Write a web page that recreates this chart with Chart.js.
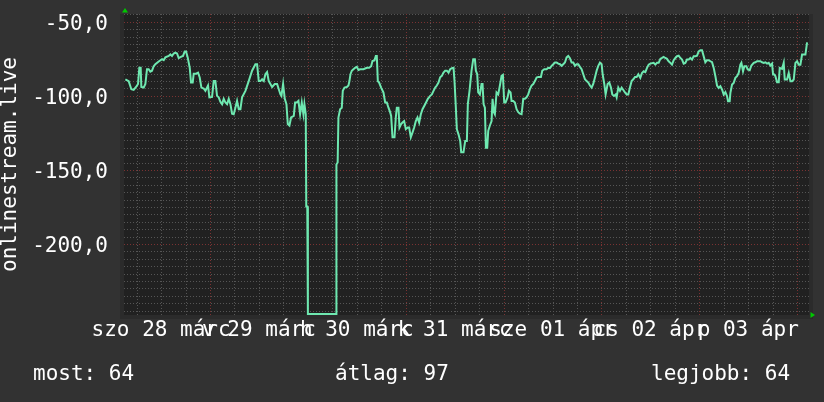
<!DOCTYPE html>
<html lang="hu">
<head>
<meta charset="UTF-8">
<title>onlinestream.live</title>
<script src="https://cdn.jsdelivr.net/npm/chart.js"></script>
<style>
  body { margin: 0; background: #323232; }
  #wrap { position: relative; width: 824px; height: 402px; }
  .stat { position: absolute; top: 363px; color: #fff; font: 21px/21px "DejaVu Sans Mono", monospace; white-space: pre; }
</style>
</head>
<body>
<div id="wrap">
  <canvas id="chart" width="824" height="402"></canvas>
  <div class="stat" style="left:33px">most: 64</div>
  <div class="stat" style="left:335px">átlag: 97</div>
  <div class="stat" style="left:651px">legjobb: 64</div>
</div>
<script>
// hours since szo 28 márc 00:00
const hours = [
  3.23, 4.05, 4.70, 5.27, 5.85, 6.34, 6.66, 6.99, 7.15, 7.73, 8.14, 8.54, 8.95, 9.36, 9.77, 10.18, 10.59, 11.41,
  12.23, 12.64, 13.04, 13.86, 14.27, 14.68, 15.09, 15.5, 15.91, 16.32, 16.97, 17.38, 17.79, 18.12, 18.52, 19.02,
  19.34, 19.75, 20.0, 20.57, 21.06, 21.47, 21.88, 22.45, 22.86, 23.51, 23.84, 24.5, 24.9, 25.31, 25.72, 26.13,
  26.54, 26.95, 27.36, 27.77, 28.18, 28.59, 29.0, 29.4, 29.81, 30.22, 30.63, 31.04, 31.45, 31.86, 32.68, 33.49,
  34.31, 35.13, 35.54, 35.95, 36.36, 36.77, 37.18, 37.58, 37.99, 38.4, 38.81, 39.22, 39.87, 40.45, 40.86, 41.27,
  41.51, 41.92, 42.33, 42.74, 43.07, 43.47, 43.88, 44.54,
  44.86, 45.27, 45.68, 46.09, 46.5, 46.9, 47.15, 47.48, 47.6, 47.85, 48.0, 54.9, 55.0, 55.3, 55.49, 55.9, 56.31,
  56.56, 56.97, 57.54, 57.95, 58.19, 58.44, 58.77, 59.17, 59.58, 60.0, 60.4, 60.81, 61.63, 62.45, 63.02, 63.51,
  63.84, 64.33, 64.66, 64.9, 65.15, 65.47, 65.96, 66.54, 66.95, 67.36, 67.76, 68.17, 68.42, 68.75, 69.24, 69.56,
  69.81, 70.22, 70.46, 70.87, 71.2, 71.61, 72.02, 72.51, 72.84, 73.24, 73.65, 74.06, 74.47, 74.88, 75.29, 75.7,
  76.11, 76.76, 77.42, 77.99, 78.4, 78.81, 79.22, 79.62, 80.03, 80.44, 80.85, 81.26, 81.67, 82.08, 82.49, 82.9,
  83.31, 83.72, 83.96, 84.29, 84.53, 84.94, 85.35, 85.6, 86.17, 86.58, 86.99, 87.23, 87.64,
  88.14, 88.55, 88.96, 89.2, 89.53, 89.77, 90.18, 90.59, 90.84, 91.08, 91.41, 91.66, 91.98, 92.23, 92.64, 93.05,
  93.29, 93.62, 93.86, 94.27, 94.68, 95.09, 95.5, 95.83, 96.15, 96.48, 96.97, 97.3, 97.71, 97.95, 98.36, 98.77,
  99.18, 99.59, 100.0, 100.41, 100.82, 101.23, 101.63, 102.04, 102.45, 102.86, 103.27, 103.68, 104.09, 104.5,
  105.15, 105.48, 105.97, 106.54, 106.95, 107.36, 107.77, 108.18, 108.59, 109.0, 109.41, 109.82, 110.22, 110.63,
  111.04, 111.45, 111.86, 112.27, 112.68, 113.09, 113.5, 113.9, 114.31, 114.72, 115.13, 115.54, 115.95, 116.36,
  116.77, 117.18, 117.59, 117.99, 118.4, 118.81, 119.22, 119.63, 120.04, 120.29, 120.7, 121.02, 121.51, 121.92,
  122.33, 122.66, 123.07, 123.48, 123.72, 124.13, 124.54, 124.95, 125.36, 125.77, 126.18, 126.58, 126.99, 127.4,
  127.81, 128.22, 128.63, 129.04,
  129.53, 129.94, 130.35, 130.76, 131.17, 131.58, 131.98, 132.8, 133.21, 133.62, 134.03, 134.44, 134.85, 135.26,
  135.66, 136.07, 136.48, 136.89, 137.3, 137.71, 138.12, 138.53, 138.94, 139.35, 139.76, 140.16, 140.57, 140.98,
  141.39, 141.8, 142.21, 142.62, 143.03, 143.44, 143.85, 144.25, 144.66, 145.07, 145.48, 145.89, 146.3, 146.71,
  147.12, 147.53, 147.94, 148.34, 148.75, 149.16, 149.57, 149.98, 150.39, 150.8, 151.04, 151.45, 151.62, 152.03,
  152.43, 152.84, 153.25, 153.66, 154.07, 154.32, 154.72, 155.05, 155.54, 155.87, 156.36, 156.77, 157.34, 157.75,
  158.16, 158.98, 159.39, 159.8, 160.21, 160.61, 161.02, 161.43, 161.84, 162.09, 162.41, 162.66, 163.07, 163.48,
  163.72, 164.29, 164.7, 164.95, 165.52, 165.93, 166.34, 166.75, 167.16, 167.57, 167.98, 168.39, 168.79, 169.2,
  169.61, 170.02, 170.43
];
const values = [
  -88.8, -90, -95.5, -96, -94, -92, -81, -81, -94, -94.4, -92, -82, -82, -83.6, -83, -80, -78.6, -76.8,
  -75.2, -75.9, -74, -73, -72, -73, -71.4, -70.8, -71.4, -74.5, -73.5, -73, -70, -70, -74, -81,
  -91, -91, -85, -85, -84.3, -87.6, -94.4, -95, -96.6, -93, -101, -100.7, -90, -90, -100, -101,
  -104, -105.6, -102, -104.5, -105.6, -102, -105.6, -112, -112.4, -108, -103.4, -109, -109, -101, -96.6, -90,
  -83, -78.6, -78.6, -90, -90, -88.8, -90, -85.4, -84, -90, -92, -94, -92, -92, -95.5, -99,
  -100, -92, -102, -105.6, -119, -120, -114.6, -113.5,
  -104.5, -104.5, -103.4, -112.4, -104.5, -112.4, -105.6, -112.4, -174.8, -174.8, -247.3, -247.3, -146.4, -145, -114.6, -109, -108,
  -96.6, -94.4, -94, -93, -90, -85.4, -83, -82, -81, -80.4, -82.5, -82, -82, -81, -81, -80,
  -76.4, -76, -73, -73, -90, -91, -94.4, -97.7, -104.5, -104.5, -108, -111, -113.5, -128, -128, -114.6,
  -108, -108, -121.4, -119, -118, -117, -122.5, -121.4, -121.4, -128, -124.8, -121.4, -117, -114.6, -118, -112.4,
  -109, -105.6, -102, -100, -99, -96.6, -94.4, -93, -91, -87.4, -86.5, -84.3, -83, -83, -84.3, -82,
  -81.3, -81, -90, -108, -122.5, -126, -130.4, -138, -138, -130.4, -130.4, -105.6, -96.6,
  -83, -75.2, -75.2, -83, -85.4, -97.7, -99, -92, -92, -105.6, -108, -135, -135, -123.6, -120, -117,
  -102, -111, -112.4, -97.7, -99, -93, -86.5, -85.8, -104.5, -104.5, -101, -96.6, -97.7, -103.4, -103.4, -104.5,
  -109, -111, -112, -112.4, -102, -102, -101, -99, -95.5, -93, -92, -90, -87.6, -87.2,
  -87.2, -83, -82, -82, -81, -81.2, -79.7, -78.6, -77.5, -77.5, -78.2, -78.6, -79.7, -78.6,
  -77.5, -74, -73, -74.5, -77.5, -77.5, -79.7, -78.6, -78.6, -80.4, -82, -85.4, -88.8, -90,
  -91, -93, -94.4, -92, -87.6, -83, -79.7, -77.5, -78.6, -85.4, -92, -99, -92, -91,
  -94.4, -99, -100, -99, -101, -94.4, -96.6, -94.4, -96, -97.7, -99, -99, -94.4, -90,
  -88.8, -87.2, -87.2, -85.4,
  -87.85, -84.5, -83.4, -84, -81.1, -78.9, -78.2, -77.7, -78.9, -77.7, -77.7, -75, -74.4, -73.7,
  -74.4, -75, -76.6, -77.7, -78.9, -75.9, -74.4, -73.2, -72.8, -74.4, -75.5, -78.2, -77.7, -75.5,
  -75.5, -74.4, -75.5, -73.2, -73.2, -72.8, -69.9, -69.2, -69.2, -73.2, -77.3, -75.9, -75.9, -76.6,
  -77.3, -81.1, -86.7, -93, -94.6, -93.5, -95.7, -99.1, -97.5, -100.2, -103.6, -103.6, -98, -92.35,
  -91.2, -87.85, -86.7, -84.5, -78.9, -77.7, -83.4, -80, -80, -82.2, -82.7, -79.5, -77.7, -77.3,
  -76.6, -76.6, -77.3, -77.7, -77.3, -78.2, -77.7, -79.5, -78.2, -85.6, -85.6, -86.7, -90.8, -90.8,
  -81.1, -81.8, -77.7, -89, -89, -84.5, -90.1, -90.1, -89, -77.7, -76.6, -78.9, -78.9, -72.1,
  -72.1, -72.1, -63.8
];
const dayLabels = ['szo 28 márc', 'v 29 márc', 'h 30 márc', 'k 31 márc', 'sze 01 ápr', 'cs 02 ápr', 'p 03 ápr'];
const xMin = 2.9, xMax = 170.9;
const yMin = -248, yMax = -44.7;
const xMinorStep = 6, xMajorStep = 24;
const yMinorStep = 5, yMajorStep = 50;

const font = { family: 'DejaVu Sans Mono', size: 21 };
const minorColor = '#555555';
const majorColor = '#7a3232';

function xGridValues() {
  const out = [];
  for (let h = xMinorStep; h <= xMax; h += xMinorStep) out.push(h);
  return out;
}
function yGridValues() {
  const out = [];
  for (let v = -245; v <= yMax; v += yMinorStep) out.push(v);
  return out;
}

const frame = {
  id: 'frame',
  beforeDraw(chart) {
    const { ctx, chartArea: a } = chart;
    ctx.save();
    ctx.fillStyle = '#2b2b2b';
    ctx.fillRect(a.left - 4, a.top, a.right - a.left + 8, a.bottom - a.top + 4);
    ctx.fillStyle = '#212121';
    ctx.fillRect(a.left, a.top, a.right - a.left, a.bottom - a.top);
    ctx.restore();
  },
  // dotted grid, drawn from the chart's own scales
  beforeDatasetsDraw(chart) {
    const { ctx, chartArea: a, scales } = chart;
    ctx.save();
    ctx.lineWidth = 1;
    ctx.setLineDash([1, 2]);
    const vline = (v, color) => {
      const px = Math.round(scales.x.getPixelForValue(v)) + 0.5;
      ctx.strokeStyle = color;
      ctx.beginPath(); ctx.moveTo(px, a.top); ctx.lineTo(px, a.bottom); ctx.stroke();
    };
    const hline = (v, color) => {
      const py = Math.round(scales.y.getPixelForValue(v)) + 0.5;
      ctx.strokeStyle = color;
      ctx.beginPath(); ctx.moveTo(a.left, py); ctx.lineTo(a.right, py); ctx.stroke();
    };
    xGridValues().filter(h => h % xMajorStep !== 0).forEach(h => vline(h, minorColor));
    yGridValues().filter(v => v % yMajorStep !== 0).forEach(v => hline(v, minorColor));
    xGridValues().filter(h => h % xMajorStep === 0).forEach(h => vline(h, majorColor));
    yGridValues().filter(v => v % yMajorStep === 0).forEach(v => hline(v, majorColor));
    ctx.restore();
  },
  afterDraw(chart) {
    const { ctx, chartArea: a } = chart;
    ctx.save();
    ctx.fillStyle = '#00c800';
    ctx.beginPath();
    ctx.moveTo(a.left + 1, a.top - 6);
    ctx.lineTo(a.left - 2, a.top - 1.5);
    ctx.lineTo(a.left + 4, a.top - 1.5);
    ctx.closePath();
    ctx.fill();
    ctx.beginPath();
    ctx.moveTo(a.right + 6, a.bottom);
    ctx.lineTo(a.right + 1.5, a.bottom - 3);
    ctx.lineTo(a.right + 1.5, a.bottom + 3);
    ctx.closePath();
    ctx.fill();
    ctx.restore();
  }
};

new Chart(document.getElementById('chart'), {
  type: 'line',
  data: {
    datasets: [{
      data: hours.map((h, i) => ({ x: h, y: values[i] })),
      borderColor: '#6ee8b0',
      borderWidth: 2,
      pointRadius: 0,
      tension: 0,
      fill: false
    }]
  },
  options: {
    responsive: false,
    animation: false,
    devicePixelRatio: 1,
    layout: { padding: { top: 14, right: 15, left: 0, bottom: 0 } },
    plugins: { legend: { display: false }, tooltip: { enabled: false } },
    scales: {
      x: {
        type: 'linear',
        min: xMin,
        max: xMax,
        afterBuildTicks: s => { s.ticks = xGridValues().map(value => ({ value })); },
        afterFit: s => { s.height = 87; },
        grid: { color: 'rgba(0,0,0,0)', tickLength: 3 },
        border: { display: false },
        ticks: {
          autoSkip: false, maxRotation: 0, minRotation: 0, padding: 0,
          color: '#ffffff', font,
          callback: v => (v % xMajorStep === 12) ? dayLabels[(v - 12) / xMajorStep] : ''
        }
      },
      y: {
        min: yMin,
        max: yMax,
        afterBuildTicks: s => { s.ticks = yGridValues().map(value => ({ value })); },
        afterFit: s => { s.width = 124; },
        grid: { color: 'rgba(0,0,0,0)', tickLength: 16 },
        border: { display: false },
        title: {
          display: true, text: 'onlinestream.live', color: '#ffffff',
          font: { family: 'DejaVu Sans Mono', size: 21, lineHeight: 1.05 },
          padding: { top: 0, bottom: 0 }
        },
        ticks: {
          autoSkip: false, padding: 0, labelOffset: 3, color: '#ffffff', font,
          callback: v => (v % yMajorStep === 0) ? v.toFixed(1).replace('.', ',') : ''
        }
      }
    }
  },
  plugins: [frame]
});
</script>
</body>
</html>
